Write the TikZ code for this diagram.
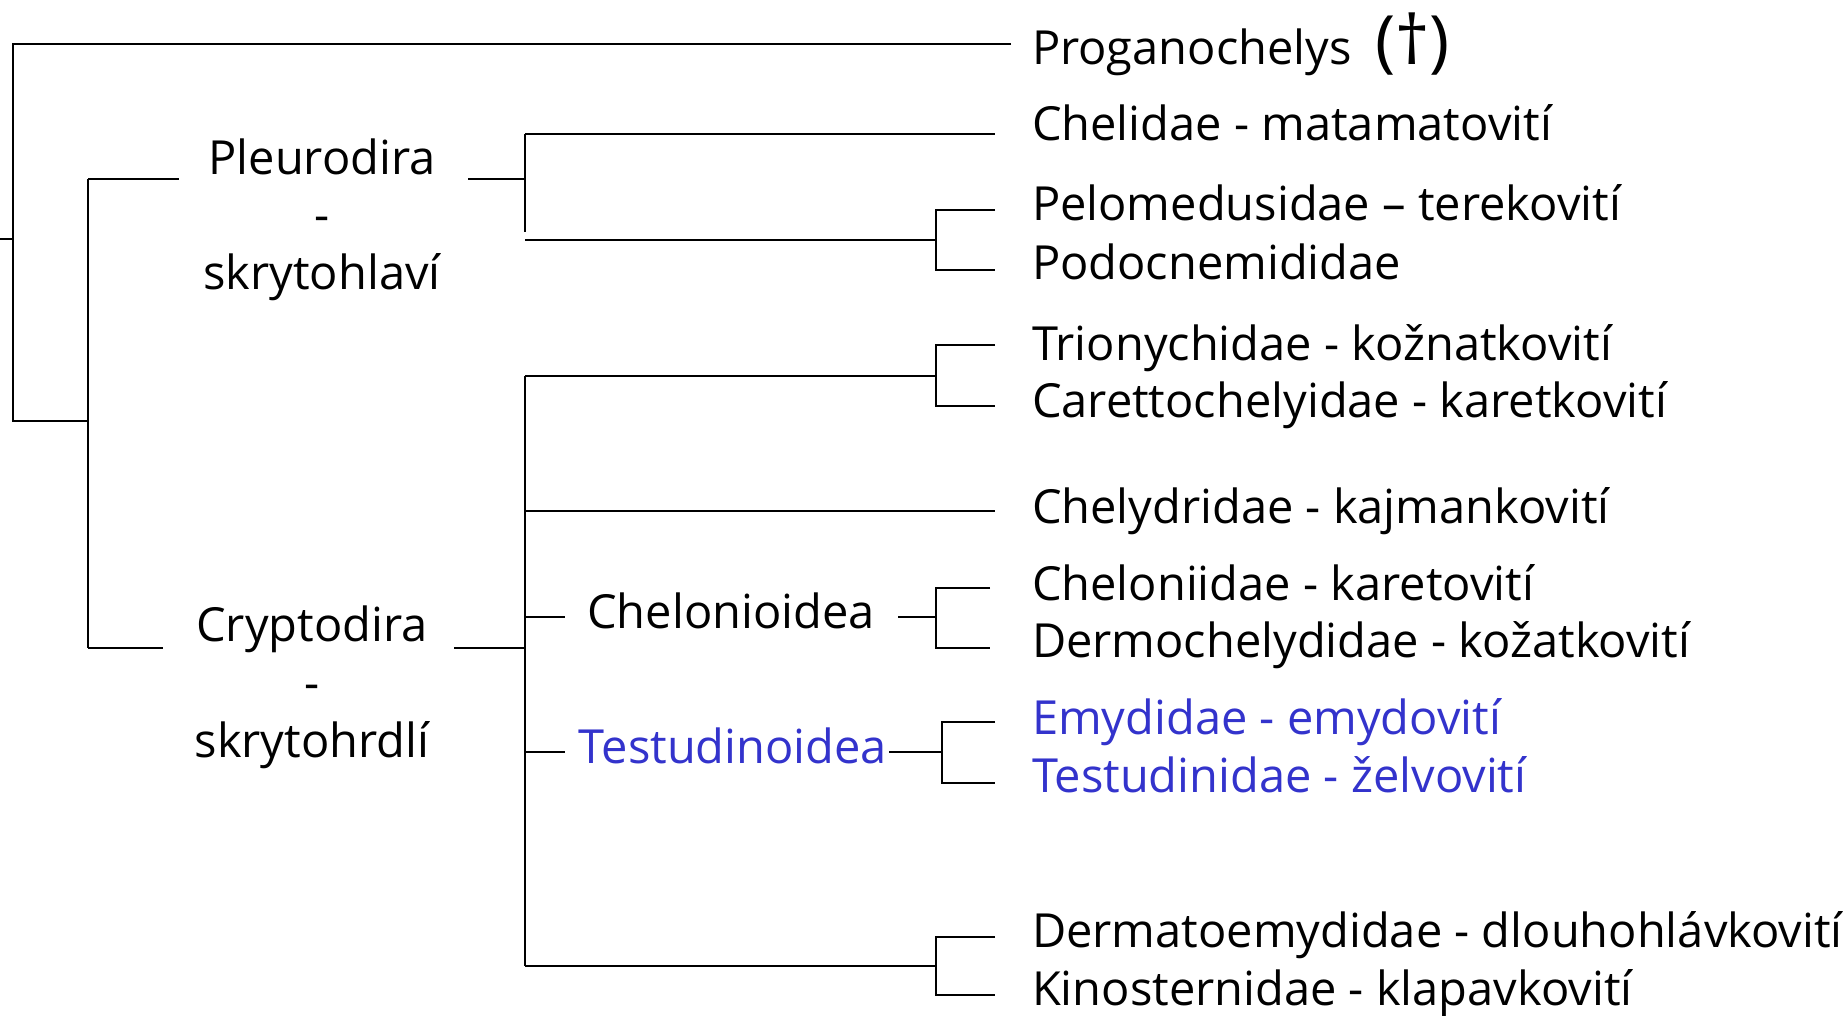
\documentclass[tikz,border=0pt]{standalone}
\usepackage{fontspec}
\setmainfont{Open Sans}
\definecolor{taxblue}{RGB}{51,51,204}
\begin{document}
\begin{tikzpicture}[x=0.5pt,y=-0.5pt,line width=1pt,
  taxon/.style={anchor=base west,inner sep=0pt,font=\fontsize{23.5}{29}\selectfont},
  clade/.style={anchor=base,inner sep=0pt,align=center,font=\fontsize{23.5}{29}\selectfont},
  bluetext/.style={text=taxblue}]
\useasboundingbox (0,0) rectangle (1847,1016);

% leaf labels
\node[taxon] (prog) at (1031,65) {Proganochelys\hspace{0.5em}{\fontsize{34}{36}\selectfont(†)}};
\node[taxon] (cheli) at (1031,141) {Chelidae - matamatovití};
\node[taxon] (pelo) at (1031,221) {Pelomedusidae – terekovití};
\node[taxon] (podo) at (1031,279) {Podocnemididae};
\node[taxon] (trio) at (1031,360) {Trionychidae - kožnatkovití};
\node[taxon] (care) at (1031,417) {Carettochelyidae - karetkovití};
\node[taxon] (chely) at (1031,523) {Chelydridae - kajmankovití};
\node[taxon] (chelo) at (1031,600) {Cheloniidae - karetovití};
\node[taxon] (derm) at (1031,657) {Dermochelydidae - kožatkovití};
\node[taxon,bluetext] (emy) at (1031,734) {Emydidae - emydovití};
\node[taxon,bluetext] (test) at (1031,792) {Testudinidae - želvovití};
\node[taxon] (dermat) at (1031,947) {Dermatoemydidae - dlouhohlávkovití};
\node[taxon] (kino) at (1031,1005) {Kinosternidae - klapavkovití};

% clade labels (base = baseline of last line)
\node[clade] (pleu) at (322,290) {Pleurodira\\-\\skrytohlaví};
\node[clade] (cryp) at (312,757) {Cryptodira\\-\\skrytohrdlí};
\node[clade] (chloid) at (731,628) {Chelonioidea};
\node[clade,bluetext] (tsoid) at (733,763) {Testudinoidea};

% junction coordinates
\coordinate (rootstub) at (0,239);
\coordinate (root) at (13,239);
\coordinate (rtop) at (13,44);
\coordinate (rbot) at (13,421);
\coordinate (n1) at (88,421);
\coordinate (n1top) at (88,179);
\coordinate (n1bot) at (88,648);
\coordinate (pleuL) at (179,179);
\coordinate (pleuR) at (468,179);
\coordinate (n2) at (525,179);
\coordinate (n2top) at (525,134);
\coordinate (n2bot) at (525,232);
\coordinate (n2low) at (525,240);
\coordinate (cheliL) at (995,134);
\coordinate (progL) at (1011,44);
\coordinate (b1) at (936,240);
\coordinate (peloL) at (995,210);
\coordinate (podoL) at (995,270);
\coordinate (crypL) at (163,648);
\coordinate (crypR) at (454,648);
\coordinate (n3) at (525,648);
\coordinate (n3top) at (525,376);
\coordinate (n3bot) at (525,966);
\coordinate (b2) at (936,376);
\coordinate (trioL) at (995,345);
\coordinate (careL) at (995,406);
\coordinate (chelyP) at (525,511);
\coordinate (chelyL) at (995,511);
\coordinate (chloP) at (525,617);
\coordinate (chloL) at (565,617);
\coordinate (chloR) at (898,617);
\coordinate (b3) at (936,617);
\coordinate (cheloL) at (990,588);
\coordinate (dermL) at (990,648);
\coordinate (tsP) at (525,752);
\coordinate (tsL) at (565,752);
\coordinate (tsR) at (889,752);
\coordinate (b4) at (942,752);
\coordinate (emyL) at (995,722);
\coordinate (testL) at (995,783);
\coordinate (b5) at (936,966);
\coordinate (dermatL) at (995,937);
\coordinate (kinoL) at (995,995);

% root
\draw (rootstub) -- (root);
\draw (progL) -- (rtop) -- (rbot) -- (n1);
\draw (n1top) -- (n1bot);
% Pleurodira
\draw (n1top) -- (pleuL);
\draw (pleuR) -- (n2);
\draw (n2top) -- (n2bot);
\draw (n2top) -- (cheliL);
\draw (n2low) -- (b1);
\draw (peloL) -| (b1) |- (podoL);
% Cryptodira
\draw (n1bot) -- (crypL);
\draw (crypR) -- (n3);
\draw (n3top) -- (n3bot);
\draw (n3top) -- (b2);
\draw (trioL) -| (b2) |- (careL);
\draw (chelyP) -- (chelyL);
\draw (chloP) -- (chloL);
\draw (chloR) -- (b3);
\draw (cheloL) -| (b3) |- (dermL);
\draw (tsP) -- (tsL);
\draw (tsR) -- (b4);
\draw (emyL) -| (b4) |- (testL);
\draw (n3bot) -- (b5);
\draw (dermatL) -| (b5) |- (kinoL);
\end{tikzpicture}
\end{document}
